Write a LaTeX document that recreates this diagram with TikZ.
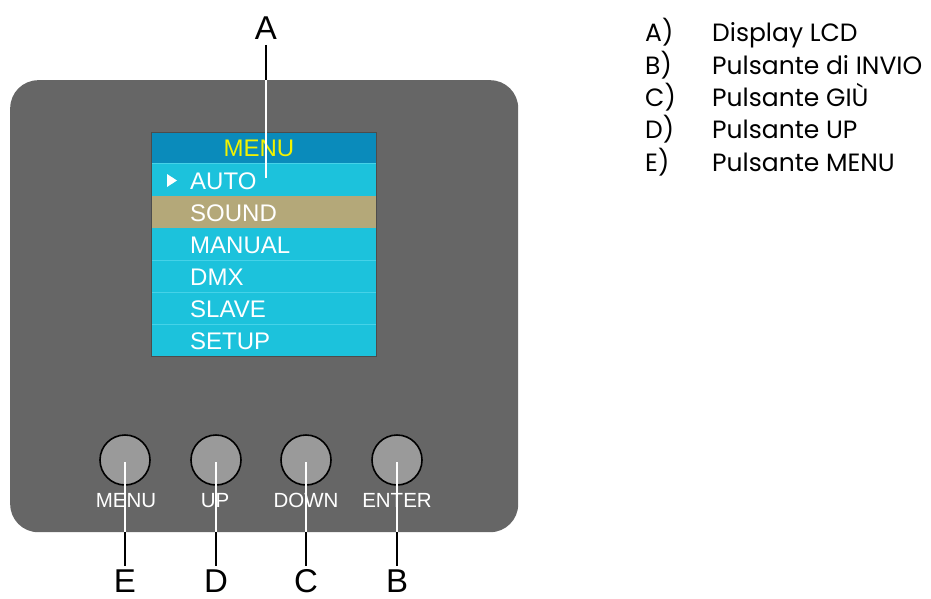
\documentclass[tikz,border=0pt]{standalone}
\usepackage{fontspec}
\newfontfamily\arialf{Liberation Sans}
\newfontfamily\gothf{Poppins}
\definecolor{panelgray}{HTML}{666666}
\definecolor{btngray}{HTML}{9A9A9A}
\definecolor{hdrblue}{HTML}{0A8BBB}
\definecolor{rowcyan}{HTML}{1CC2DC}
\definecolor{rowsep}{HTML}{45D2E8}
\definecolor{tan}{HTML}{B4A879}
\definecolor{menuyellow}{HTML}{F2F200}
\begin{document}
\begin{tikzpicture}[x=1pt,y=-1pt,
  item/.style={anchor=base west,inner sep=0pt,text=white,font=\arialf\fontsize{24}{24}\selectfont},
  btn/.style={circle,draw=black,line width=1.6pt,fill=btngray,minimum size=50pt,inner sep=0pt},
  btnlbl/.style={anchor=base,inner sep=0pt,text=white,font=\arialf\fontsize{20.5}{20.5}\selectfont},
  callout/.style={anchor=base,inner sep=0pt,font=\arialf\fontsize{33}{33}\selectfont},
  legend/.style={anchor=base west,inner sep=0pt,font=\gothf\fontsize{25}{25}\selectfont},
  wline/.style={draw=white,line width=1.5pt},
  bline/.style={draw=black,line width=1.5pt}]
\useasboundingbox (0,0) rectangle (931,599);
% panel
\node[draw=none,fill=panelgray,rounded corners=28pt,minimum width=508pt,minimum height=452pt,inner sep=0pt,anchor=north west] (panel) at (10,80) {};
% screen
\fill[rowcyan] (151,163) rectangle (376,356);
\fill[hdrblue] (151,132) rectangle (376,163);
\fill[tan] (151,196) rectangle (376,228);
\foreach \y in {163,260,292,324} \draw[rowsep,line width=0.6pt] (151,\y) -- (376,\y);
\draw[draw=black!70,line width=0.8pt] (151,132) rectangle (376,356);
\node[anchor=base,inner sep=0pt,text=menuyellow,font=\arialf\fontsize{24}{24}\selectfont] (menu) at (259,157) {MENU};
\fill[white] (167,174) -- (177,180.5) -- (167,187) -- cycle;
\node[item] (auto) at (190,189) {AUTO};
\node[item] (sound) at (190,221) {SOUND};
\node[item] (manual) at (190,253) {MANUAL};
\node[item] (dmx) at (190,285) {DMX};
\node[item] (slave) at (190,317) {SLAVE};
\node[item] (setup) at (190,349) {SETUP};
% callout A
\node[callout] (A) at (266,40) {A};
\coordinate (Ascr) at (266,178);
\draw[wline] (266,80) -- (Ascr);
\draw[bline] (266,45) -- (266,80);
% buttons
\node[btn] (bmenu) at (125,460) {};
\node[btn] (bup) at (216,460) {};
\node[btn] (bdown) at (306,460) {};
\node[btn] (benter) at (397,460) {};
\node[btnlbl] at (126,507) {MENU};
\node[btnlbl] at (215,507) {UP};
\node[btnlbl] at (306,507) {DOWN};
\node[btnlbl] at (397,507) {ENTER};
\node[callout] (E) at (125,592) {E};
\node[callout] (D) at (216,592) {D};
\node[callout] (C) at (306,592) {C};
\node[callout] (B) at (397,592) {B};
\foreach \b/\l in {bmenu/E,bup/D,bdown/C,benter/B}{
  \draw[wline] ([yshift=-2pt]\b.center) -- (\b.center |- panel.south);
  \draw[bline] (\b.center |- panel.south) -- ([yshift=3pt]\l.north);
}
% legend
\foreach \t/\d [count=\i from 0] in {A)/Display LCD,B)/Pulsante di INVIO,C)/Pulsante GIÙ,D)/Pulsante UP,E)/Pulsante MENU}{
  \node[legend] (lk\i) at (645,42+32.3*\i) {\t};
  \node[legend] (lt\i) at (712,42+32.3*\i) {\d};
}
\end{tikzpicture}
\end{document}
